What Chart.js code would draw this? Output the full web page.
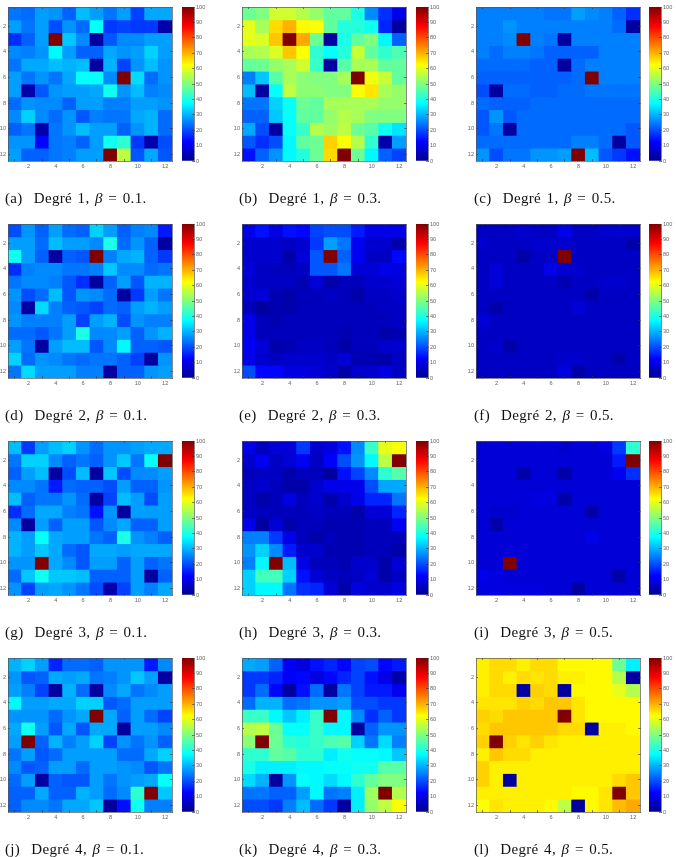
<!DOCTYPE html>
<html>
<head>
<meta charset="utf-8">
<style>
html, body { margin: 0; padding: 0; background: #fff; overflow: hidden; }
body { position: relative; width: 676px; height: 857px; }
canvas { position: absolute; filter: blur(0.45px); }
.caption { position: absolute; font-family: 'Liberation Serif', serif; font-size: 15px; letter-spacing: 0.35px; word-spacing: 1.4px; color: #111; white-space: pre; line-height: 16px; filter: blur(0.3px); }
.caption i { font-style: italic; }
</style>
<script src="https://cdn.jsdelivr.net/npm/chart.js@4"></script>
</head>
<body>
<script>
const cellLabels = ['1', '2', '3', '4', '5', '6', '7', '8', '9', '10', '11', '12'];
const axisTicks = [2, 4, 6, 8, 10, 12];
const colorbarTicks = [0, 10, 20, 30, 40, 50, 60, 70, 80, 90, 100];

const panelA = [
    [24, 23, 28, 27, 22, 31, 28, 24, 28, 19, 29, 29],
    [28, 24, 28, 20, 27, 23, 38, 18, 19, 18, 18, 3],
    [17, 22, 28, 100, 32, 26, 2, 21, 26, 26, 28, 28],
    [26, 25, 27, 37, 28, 22, 22, 29, 27, 28, 33, 28],
    [24, 29, 29, 31, 30, 31, 2, 30, 19, 27, 31, 27],
    [28, 24, 27, 24, 29, 38, 38, 26, 100, 34, 23, 27],
    [28, 3, 21, 27, 28, 28, 29, 39, 27, 31, 25, 26],
    [23, 27, 26, 26, 22, 28, 28, 25, 25, 28, 28, 27],
    [26, 33, 26, 23, 27, 21, 25, 24, 24, 29, 30, 23],
    [22, 24, 3, 24, 27, 31, 28, 28, 22, 27, 30, 23],
    [27, 27, 13, 24, 25, 22, 28, 39, 42, 18, 3, 20],
    [28, 22, 22, 24, 25, 28, 28, 100, 56, 21, 29, 21],
];
const panelB = [
    [48, 50, 58, 58, 55, 52, 47, 47, 40, 26, 17, 10],
    [60, 54, 66, 70, 63, 62, 47, 41, 41, 39, 16, 2],
    [60, 59, 68, 100, 71, 48, 2, 40, 47, 50, 37, 22],
    [54, 55, 59, 68, 62, 42, 38, 41, 57, 47, 42, 45],
    [47, 48, 52, 54, 58, 43, 2, 46, 54, 54, 47, 47],
    [25, 32, 46, 54, 51, 50, 50, 54, 100, 61, 57, 47],
    [31, 2, 38, 56, 51, 51, 50, 50, 62, 65, 54, 52],
    [24, 24, 33, 38, 48, 47, 54, 54, 54, 54, 52, 52],
    [22, 22, 32, 38, 47, 47, 52, 55, 54, 50, 50, 50],
    [29, 20, 2, 38, 43, 55, 53, 56, 48, 46, 39, 35],
    [21, 17, 20, 37, 47, 48, 67, 62, 55, 42, 3, 28],
    [14, 22, 27, 37, 41, 48, 66, 100, 48, 37, 22, 19],
];
const panelC = [
    [25, 25, 25, 25, 25, 24, 24, 28, 26, 25, 22, 17],
    [25, 25, 27, 25, 25, 25, 25, 25, 25, 25, 23, 2],
    [25, 25, 26, 100, 25, 24, 2, 25, 25, 25, 25, 25],
    [25, 23, 25, 25, 24, 22, 22, 22, 22, 25, 25, 25],
    [23, 23, 23, 23, 22, 22, 2, 23, 25, 25, 25, 25],
    [22, 22, 22, 22, 22, 22, 22, 23, 100, 25, 25, 25],
    [20, 2, 23, 23, 22, 22, 23, 23, 24, 24, 24, 24],
    [23, 22, 22, 22, 23, 23, 23, 23, 23, 23, 23, 23],
    [21, 27, 21, 23, 23, 23, 23, 23, 23, 23, 23, 23],
    [21, 24, 2, 23, 23, 23, 23, 23, 23, 23, 23, 21],
    [23, 23, 23, 23, 23, 23, 23, 25, 25, 23, 2, 21],
    [27, 20, 24, 24, 27, 27, 28, 100, 31, 21, 18, 14],
];
const panelD = [
    [20, 27, 22, 28, 23, 22, 33, 28, 22, 25, 26, 15],
    [28, 28, 23, 31, 28, 28, 26, 40, 23, 27, 22, 2],
    [39, 28, 22, 2, 22, 21, 100, 25, 29, 30, 22, 18],
    [17, 25, 26, 26, 24, 24, 25, 32, 26, 26, 23, 24],
    [24, 26, 26, 25, 21, 17, 2, 22, 28, 21, 30, 30],
    [27, 20, 23, 31, 21, 27, 26, 23, 2, 18, 28, 24],
    [26, 2, 34, 25, 22, 21, 19, 23, 22, 28, 30, 28],
    [27, 25, 25, 25, 28, 19, 28, 30, 20, 27, 25, 25],
    [23, 23, 21, 24, 28, 40, 26, 26, 28, 22, 27, 30],
    [28, 24, 2, 28, 31, 31, 21, 26, 37, 22, 22, 21],
    [33, 23, 27, 26, 24, 23, 24, 24, 22, 19, 2, 27],
    [24, 34, 28, 28, 28, 25, 25, 2, 22, 22, 27, 28],
];
const panelE = [
    [10, 14, 9, 14, 13, 19, 20, 20, 15, 10, 10, 10],
    [7, 7, 7, 6, 7, 18, 28, 24, 11, 7, 7, 3],
    [7, 7, 7, 3, 8, 21, 100, 22, 11, 6, 6, 13],
    [8, 6, 5, 5, 6, 21, 21, 24, 8, 8, 10, 9],
    [7, 6, 6, 6, 4, 8, 3, 5, 5, 7, 7, 8],
    [7, 8, 4, 3, 5, 5, 6, 5, 3, 6, 6, 7],
    [5, 2, 4, 3, 5, 5, 5, 5, 5, 5, 6, 6],
    [10, 5, 4, 5, 5, 5, 5, 5, 5, 5, 5, 6],
    [10, 5, 5, 5, 5, 5, 5, 4, 5, 5, 3, 4],
    [11, 8, 3, 4, 6, 6, 5, 3, 5, 5, 7, 7],
    [10, 7, 6, 7, 7, 7, 6, 8, 4, 4, 3, 6],
    [20, 13, 13, 9, 9, 8, 7, 3, 7, 7, 9, 6],
];
const panelF = [
    [6, 6, 6, 7, 6, 6, 10, 6, 6, 7, 7, 7],
    [7, 6, 6, 6, 7, 7, 7, 6, 6, 6, 6, 3],
    [6, 6, 6, 3, 6, 6, 100, 6, 6, 6, 6, 6],
    [6, 8, 6, 6, 6, 10, 7, 7, 6, 6, 6, 6],
    [6, 8, 6, 6, 6, 6, 4, 6, 6, 7, 7, 6],
    [6, 6, 6, 6, 6, 6, 6, 6, 3, 6, 6, 6],
    [6, 3, 6, 6, 6, 6, 6, 8, 6, 6, 6, 6],
    [8, 6, 6, 6, 6, 6, 6, 6, 6, 6, 6, 6],
    [6, 6, 6, 6, 6, 6, 6, 6, 6, 6, 6, 6],
    [6, 7, 3, 6, 6, 6, 6, 6, 6, 6, 6, 6],
    [6, 6, 6, 6, 6, 6, 7, 7, 6, 6, 3, 6],
    [6, 6, 6, 6, 6, 6, 9, 3, 6, 6, 6, 6],
];
const panelG = [
    [31, 18, 28, 31, 33, 27, 23, 27, 27, 28, 29, 29],
    [24, 33, 33, 26, 22, 24, 22, 27, 32, 24, 38, 100],
    [22, 28, 31, 2, 20, 31, 2, 32, 20, 26, 26, 28],
    [26, 26, 24, 15, 23, 22, 22, 20, 28, 22, 22, 27],
    [31, 22, 24, 24, 27, 23, 2, 19, 31, 28, 20, 28],
    [17, 23, 29, 29, 25, 24, 14, 27, 2, 28, 28, 28],
    [26, 2, 28, 22, 28, 28, 21, 26, 29, 22, 22, 28],
    [30, 28, 38, 29, 28, 28, 24, 22, 40, 27, 25, 22],
    [30, 28, 32, 29, 23, 21, 29, 29, 28, 29, 29, 29],
    [27, 27, 100, 29, 26, 21, 28, 28, 22, 28, 22, 24],
    [23, 32, 39, 32, 32, 31, 22, 22, 22, 28, 2, 22],
    [27, 19, 28, 29, 27, 24, 20, 3, 19, 28, 25, 29],
];
const panelH = [
    [10, 5, 8, 8, 18, 7, 9, 14, 26, 43, 60, 62],
    [7, 11, 6, 8, 11, 6, 12, 20, 27, 37, 56, 100],
    [5, 6, 6, 3, 5, 5, 2, 14, 19, 26, 42, 46],
    [6, 7, 5, 3, 3, 7, 10, 10, 10, 20, 29, 29],
    [6, 3, 5, 9, 5, 7, 3, 7, 10, 16, 16, 24],
    [6, 5, 5, 5, 5, 6, 5, 5, 3, 8, 8, 16],
    [10, 2, 8, 3, 5, 5, 4, 4, 4, 5, 5, 11],
    [25, 25, 18, 10, 5, 3, 5, 4, 4, 5, 5, 5],
    [27, 33, 26, 15, 7, 7, 4, 4, 4, 5, 5, 3],
    [25, 37, 100, 31, 10, 5, 5, 4, 7, 7, 3, 8],
    [33, 44, 44, 33, 14, 8, 6, 5, 6, 8, 3, 6],
    [33, 37, 37, 24, 17, 16, 8, 3, 9, 7, 7, 9],
];
const panelI = [
    [8, 8, 8, 8, 8, 8, 7, 8, 8, 9, 18, 42],
    [8, 8, 8, 8, 8, 8, 8, 8, 8, 8, 15, 100],
    [8, 8, 8, 3, 8, 8, 3, 8, 8, 8, 11, 17],
    [8, 8, 8, 8, 8, 8, 8, 8, 8, 8, 8, 8],
    [8, 8, 8, 8, 9, 9, 3, 8, 8, 8, 8, 8],
    [8, 7, 7, 8, 8, 8, 8, 8, 3, 8, 8, 8],
    [8, 3, 8, 8, 8, 8, 8, 8, 8, 8, 8, 8],
    [8, 8, 8, 8, 8, 8, 8, 8, 10, 8, 8, 8],
    [8, 8, 8, 8, 8, 8, 8, 8, 8, 8, 8, 8],
    [8, 8, 100, 8, 8, 8, 8, 8, 8, 8, 8, 8],
    [10, 9, 8, 8, 8, 8, 8, 8, 8, 8, 3, 8],
    [9, 9, 9, 9, 9, 8, 8, 2, 8, 8, 8, 8],
];
const panelJ = [
    [30, 33, 28, 16, 23, 23, 22, 27, 27, 27, 15, 26],
    [27, 21, 22, 29, 28, 29, 24, 25, 27, 32, 28, 2],
    [28, 25, 19, 2, 30, 23, 2, 26, 29, 24, 26, 28],
    [37, 28, 28, 29, 29, 33, 33, 21, 23, 28, 28, 28],
    [27, 27, 27, 23, 27, 29, 100, 29, 22, 28, 23, 19],
    [29, 39, 28, 21, 29, 21, 29, 29, 2, 28, 28, 26],
    [28, 100, 22, 30, 25, 28, 33, 19, 27, 24, 27, 22],
    [24, 28, 21, 23, 28, 28, 28, 28, 23, 23, 29, 33],
    [26, 21, 22, 28, 28, 23, 28, 28, 27, 26, 21, 24],
    [23, 28, 2, 22, 21, 21, 28, 24, 27, 28, 29, 38],
    [22, 22, 29, 22, 22, 30, 28, 23, 26, 42, 100, 32],
    [22, 26, 26, 24, 29, 29, 32, 2, 14, 39, 25, 25],
];
const panelK = [
    [29, 28, 22, 11, 9, 14, 16, 13, 19, 20, 13, 15],
    [18, 18, 16, 12, 13, 9, 13, 16, 19, 14, 10, 3],
    [18, 23, 13, 2, 14, 23, 2, 24, 19, 15, 15, 11],
    [23, 30, 30, 23, 24, 27, 27, 28, 20, 20, 18, 18],
    [43, 43, 37, 32, 36, 43, 100, 37, 26, 17, 22, 18],
    [55, 56, 48, 38, 38, 43, 37, 37, 2, 22, 27, 27],
    [51, 100, 48, 42, 41, 43, 45, 46, 33, 24, 34, 25],
    [42, 42, 47, 46, 42, 42, 36, 39, 38, 38, 37, 32],
    [40, 36, 36, 36, 37, 37, 38, 38, 39, 39, 46, 46],
    [34, 30, 2, 27, 38, 37, 34, 37, 42, 47, 50, 50],
    [24, 24, 22, 22, 28, 37, 24, 25, 36, 53, 100, 55],
    [20, 20, 18, 25, 31, 23, 18, 2, 36, 52, 56, 62],
];
const panelL = [
    [64, 66, 66, 64, 66, 66, 63, 63, 63, 63, 48, 36],
    [64, 66, 64, 66, 65, 66, 64, 64, 63, 63, 55, 2],
    [64, 66, 66, 2, 67, 66, 2, 63, 63, 63, 60, 55],
    [65, 65, 65, 67, 66, 68, 68, 65, 63, 63, 63, 63],
    [67, 66, 68, 68, 68, 68, 100, 65, 63, 63, 63, 63],
    [66, 68, 68, 68, 68, 68, 66, 66, 2, 64, 64, 63],
    [67, 100, 67, 65, 67, 65, 64, 64, 64, 64, 64, 64],
    [64, 68, 66, 66, 64, 64, 64, 64, 64, 64, 64, 64],
    [67, 64, 64, 64, 64, 64, 64, 64, 64, 64, 64, 64],
    [67, 64, 2, 64, 64, 64, 64, 64, 64, 64, 66, 68],
    [64, 64, 64, 64, 64, 64, 64, 63, 63, 65, 100, 68],
    [62, 65, 64, 64, 64, 63, 56, 2, 63, 65, 69, 71],
];

const panels = [panelA, panelB, panelC, panelD, panelE, panelF, panelG, panelH, panelI, panelJ, panelK, panelL];
const panelLetters = ['a', 'b', 'c', 'd', 'e', 'f', 'g', 'h', 'i', 'j', 'k', 'l'];
const panelDegrees = [1, 1, 1, 2, 2, 2, 3, 3, 3, 4, 4, 4];
const panelBetas = ['0.1', '0.3', '0.5', '0.1', '0.3', '0.5', '0.1', '0.3', '0.5', '0.1', '0.3', '0.5'];

const columnLefts = [8, 242, 476];
const colorbarLefts = [181.5, 416, 649];
const rowTops = [7, 224, 441, 658];
const captionTops = [190, 407, 624, 841];
const captionLefts = [5, 239, 474];
const plotWidth = 164;
const plotHeight = 154;
const colorbarWidth = 12;

const jetStops = [
    [0, [0, 0, 143]],
    [0.125, [0, 0, 255]],
    [0.375, [0, 255, 255]],
    [0.625, [255, 255, 0]],
    [0.875, [255, 0, 0]],
    [1, [128, 0, 0]],
];

function jetColor(value) {
    const t = Math.min(1, Math.max(0, value / 100));
    for (let i = 1; i < jetStops.length; i++) {
        if (t <= jetStops[i][0]) {
            const [t0, c0] = jetStops[i - 1];
            const [t1, c1] = jetStops[i];
            const k = (t - t0) / (t1 - t0);
            const rgb = c0.map((c, n) => Math.round(c + (c1[n] - c) * k));
            return `rgb(${rgb[0]}, ${rgb[1]}, ${rgb[2]})`;
        }
    }
    return 'rgb(128, 0, 0)';
}

function addCanvas(left, top, width, height) {
    const canvas = document.createElement('canvas');
    canvas.width = width;
    canvas.height = height;
    canvas.style.left = `${left}px`;
    canvas.style.top = `${top}px`;
    canvas.style.width = `${width}px`;
    canvas.style.height = `${height}px`;
    document.body.appendChild(canvas);
    return canvas;
}

function axisBase(size, labelled) {
    const horizontal = size.height !== undefined;
    return {
        display: true,
        grid: { display: true, drawOnChartArea: false, drawTicks: true, tickLength: -2, tickWidth: 0.6, tickColor: '#333', z: 1 },
        border: { display: true, color: '#555', width: 0.7, z: 1 },
        ticks: {
            display: labelled,
            autoSkip: false,
            maxRotation: 0,
            padding: 4,
            color: '#666',
            font: { family: "'Liberation Sans', Arial, sans-serif", size: 5.6 },
        },
        afterFit: (scale) => {
            if (horizontal) {
                scale.height = size.height;
            } else {
                scale.width = size.width;
            }
            // keep the plot area exact, labels may hang over the edge
            scale.paddingTop = 0;
            scale.paddingBottom = 0;
            scale.paddingLeft = 0;
            scale.paddingRight = 0;
        },
    };
}

function onlyAxisTicks(scale) {
    scale.ticks = axisTicks.map((v) => ({ value: scale.type === 'category' ? v - 1 : v }));
}

function drawHeatmap(canvas, matrix, margins) {
    const datasets = matrix.map((row, r) => ({
        data: row.map(() => [r + 0.5, r + 1.5]),
        backgroundColor: row.map(jetColor),
        borderWidth: 0,
        inflateAmount: 0.4,
    }));

    return new Chart(canvas, {
        type: 'bar',
        data: { labels: cellLabels, datasets },
        options: {
            responsive: false,
            animation: false,
            devicePixelRatio: 1,
            events: [],
            layout: { padding: 0 },
            grouped: false,
            categoryPercentage: 1,
            barPercentage: 1,
            plugins: { legend: { display: false }, tooltip: { enabled: false } },
            scales: {
                x: { ...axisBase({ height: margins.bottom }, true), afterBuildTicks: onlyAxisTicks },
                x2: { ...axisBase({ height: margins.top }, false), type: 'category', labels: cellLabels, position: 'top', afterBuildTicks: onlyAxisTicks },
                y: { ...axisBase({ width: margins.left }, true), type: 'linear', min: 0.5, max: 12.5, reverse: true, afterBuildTicks: onlyAxisTicks },
                y2: { ...axisBase({ width: margins.right }, false), type: 'linear', position: 'right', min: 0.5, max: 12.5, reverse: true, afterBuildTicks: onlyAxisTicks },
            },
        },
    });
}

function colorbarFill(context) {
    const area = context.chart.chartArea;
    if (!area) {
        return '#000080';
    }
    const gradient = context.chart.ctx.createLinearGradient(0, area.bottom, 0, area.top);
    jetStops.forEach(([stop, rgb]) => {
        gradient.addColorStop(stop, `rgb(${rgb[0]}, ${rgb[1]}, ${rgb[2]})`);
    });
    return gradient;
}

function drawColorbar(canvas, margins) {
    return new Chart(canvas, {
        type: 'bar',
        data: {
            labels: [''],
            datasets: [{ data: [[0, 100]], backgroundColor: colorbarFill, borderWidth: 0 }],
        },
        options: {
            responsive: false,
            animation: false,
            devicePixelRatio: 1,
            events: [],
            layout: { padding: { top: margins.pad, bottom: margins.pad } },
            categoryPercentage: 1,
            barPercentage: 1,
            plugins: { legend: { display: false }, tooltip: { enabled: false } },
            scales: {
                x: { display: false },
                y: {
                    ...axisBase({ width: margins.right }, true),
                    position: 'right',
                    min: 0,
                    max: 100,
                    afterBuildTicks: (scale) => {
                        scale.ticks = colorbarTicks.map((v) => ({ value: v }));
                    },
                },
            },
        },
    });
}

function addCaption(left, top, letter, degree, beta) {
    const div = document.createElement('div');
    div.className = 'caption';
    div.style.left = `${left}px`;
    div.style.top = `${top}px`;
    div.innerHTML = `(${letter})  Degré ${degree}, <i>β</i> = ${beta}.`;
    document.body.appendChild(div);
}

function renderPage() {
    const margins = { left: 8, right: 2, top: 2, bottom: 13 };
    const barPad = 4;
    panels.forEach((matrix, index) => {
        const col = index % 3;
        const row = Math.floor(index / 3);
        const left = columnLefts[col];
        const top = rowTops[row];

        const heat = addCanvas(left - margins.left, top - margins.top, plotWidth + margins.left + margins.right, plotHeight + margins.top + margins.bottom);
        drawHeatmap(heat, matrix, margins);

        const bar = addCanvas(colorbarLefts[col], top - barPad, colorbarWidth + 14, plotHeight + barPad * 2);
        drawColorbar(bar, { right: 14, pad: barPad });

        addCaption(captionLefts[col], captionTops[row], panelLetters[index], panelDegrees[index], panelBetas[index]);
    });
}

renderPage();
</script>
</body>
</html>
